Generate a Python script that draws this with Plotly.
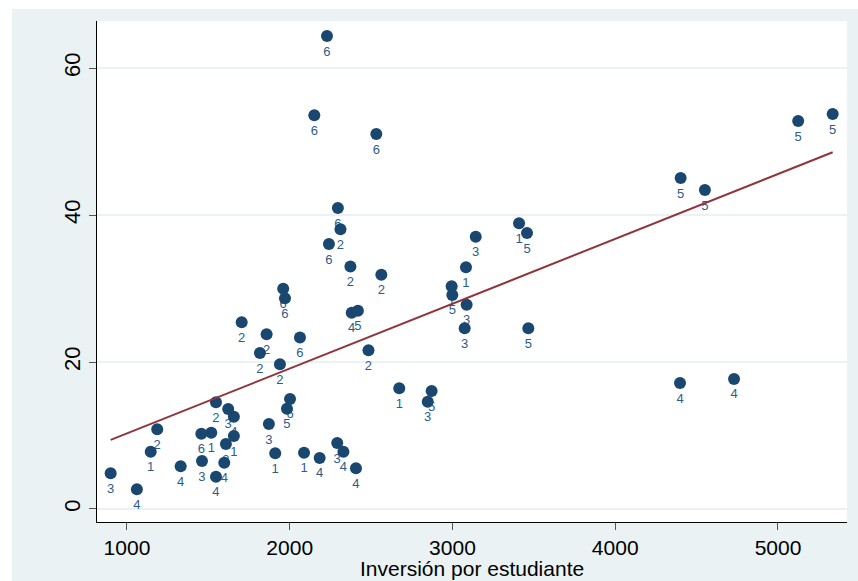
import numpy as np
import plotly.graph_objects as go

inversion = [900, 1061, 1146, 1186, 1330, 1457, 1518, 1461, 1547, 1547,
             1622, 1657, 1657, 1608, 1598, 1872, 1911, 1983, 2002, 2088,
             2184, 2292, 2330, 2407, 1817, 1940, 2484, 2063, 1705, 1858,
             1960, 1971, 2296, 2312, 2241, 2373, 2563, 2381, 2419, 2229,
             2151, 2532, 3083, 3143, 3409, 3458, 2995, 2999, 3087, 3075,
             3466, 2673, 2872, 2848, 4402, 4551, 5124, 5336, 4398, 4730]
resultado = [4.86, 2.68, 7.80, 10.84, 5.81, 10.24, 10.38, 6.53, 4.39, 14.52,
             13.61, 12.56, 9.93, 8.84, 6.30, 11.56, 7.58, 13.65, 14.97, 7.66,
             6.94, 8.98, 7.80, 5.54, 21.22, 19.69, 21.59, 23.33, 25.40, 23.77,
             29.97, 28.67, 40.95, 38.07, 36.05, 32.99, 31.88, 26.71, 26.98, 64.35,
             53.56, 51.02, 32.88, 37.05, 38.87, 37.55, 30.30, 29.12, 27.80, 24.59,
             24.59, 16.42, 16.05, 14.60, 45.03, 43.40, 52.79, 53.74, 17.14, 17.69]
grupo = ["3", "4", "1", "2", "4", "6", "1", "3", "4", "2",
         "3", "4", "1", "3", "4", "3", "1", "5", "6", "1",
         "4", "3", "4", "4", "2", "2", "2", "6", "2", "2",
         "6", "6", "6", "2", "6", "2", "2", "4", "5", "6",
         "6", "6", "1", "3", "1", "5", "1", "5", "3", "3",
         "5", "1", "5", "3", "5", "5", "5", "5", "4", "4"]

x_ticks = [1000, 2000, 3000, 4000, 5000]
y_ticks = [0, 20, 40, 60]
x_title = "Inversión por estudiante"

xa = np.array(inversion, dtype=float)
ya = np.array(resultado, dtype=float)
slope, intercept = np.polyfit(xa, ya, 1)
fit_x = np.array([xa.min(), xa.max()])
fit_y = intercept + slope * fit_x

navy = "#1A476F"
maroon = "#90353B"
bg = "#EAF2F3"
font_family = "Liberation Sans, Arial, sans-serif"

fig = go.Figure()
# labels first so that markers drawn later can cover them (as in the reference)
fig.add_trace(go.Scatter(
    x=inversion, y=resultado, mode="markers+text", text=grupo,
    textposition="bottom center",
    marker=dict(size=14, color="rgba(0,0,0,0)", line=dict(width=0)),
    textfont=dict(family=font_family, size=13, color="#2E5C8A"),
    hoverinfo="skip", showlegend=False,
))
fig.add_trace(go.Scatter(
    x=inversion, y=resultado, mode="markers",
    marker=dict(size=12, color=navy, line=dict(width=0)),
    showlegend=False,
))
fig.add_trace(go.Scatter(
    x=fit_x, y=fit_y, mode="lines",
    line=dict(color=maroon, width=2),
    showlegend=False,
))

fig.update_layout(
    width=858, height=581,
    margin=dict(l=97, r=11, t=21, b=59),
    paper_bgcolor=bg,
    plot_bgcolor="white",
    font=dict(family=font_family, color="black"),
    shapes=[
        dict(type="rect", xref="paper", yref="paper",
             x0=-0.2, x1=(12 - 97) / 750, y0=-0.2, y1=1.2,
             fillcolor="white", line=dict(width=0), layer="above"),
        dict(type="rect", xref="paper", yref="paper",
             x0=-0.2, x1=1.2, y0=(522 - 9) / 501, y1=1.2,
             fillcolor="white", line=dict(width=0), layer="above"),
    ],
    annotations=[
        dict(text=x_title, xref="paper", yref="paper", x=0.5, y=0,
             xanchor="center", yanchor="middle", yshift=-46, showarrow=False,
             font=dict(family=font_family, size=21, color="black")),
    ],
)
fig.update_xaxes(
    range=[816, 5424], tickvals=x_ticks, ticks="outside", ticklen=7,
    tickcolor="#555555", tickfont=dict(size=21), automargin=False,
    showgrid=False, zeroline=False,
    showline=True, linecolor="black", linewidth=1,
)
fig.update_yaxes(
    range=[-1.77, 66.4], tickvals=y_ticks, ticks="outside", ticklen=7,
    tickcolor="#555555", tickfont=dict(size=22), tickangle=-90, automargin=False,
    showgrid=True, gridcolor=bg, gridwidth=2, zeroline=False,
    showline=True, linecolor="black", linewidth=1,
)

fig.write_html("out.html")
